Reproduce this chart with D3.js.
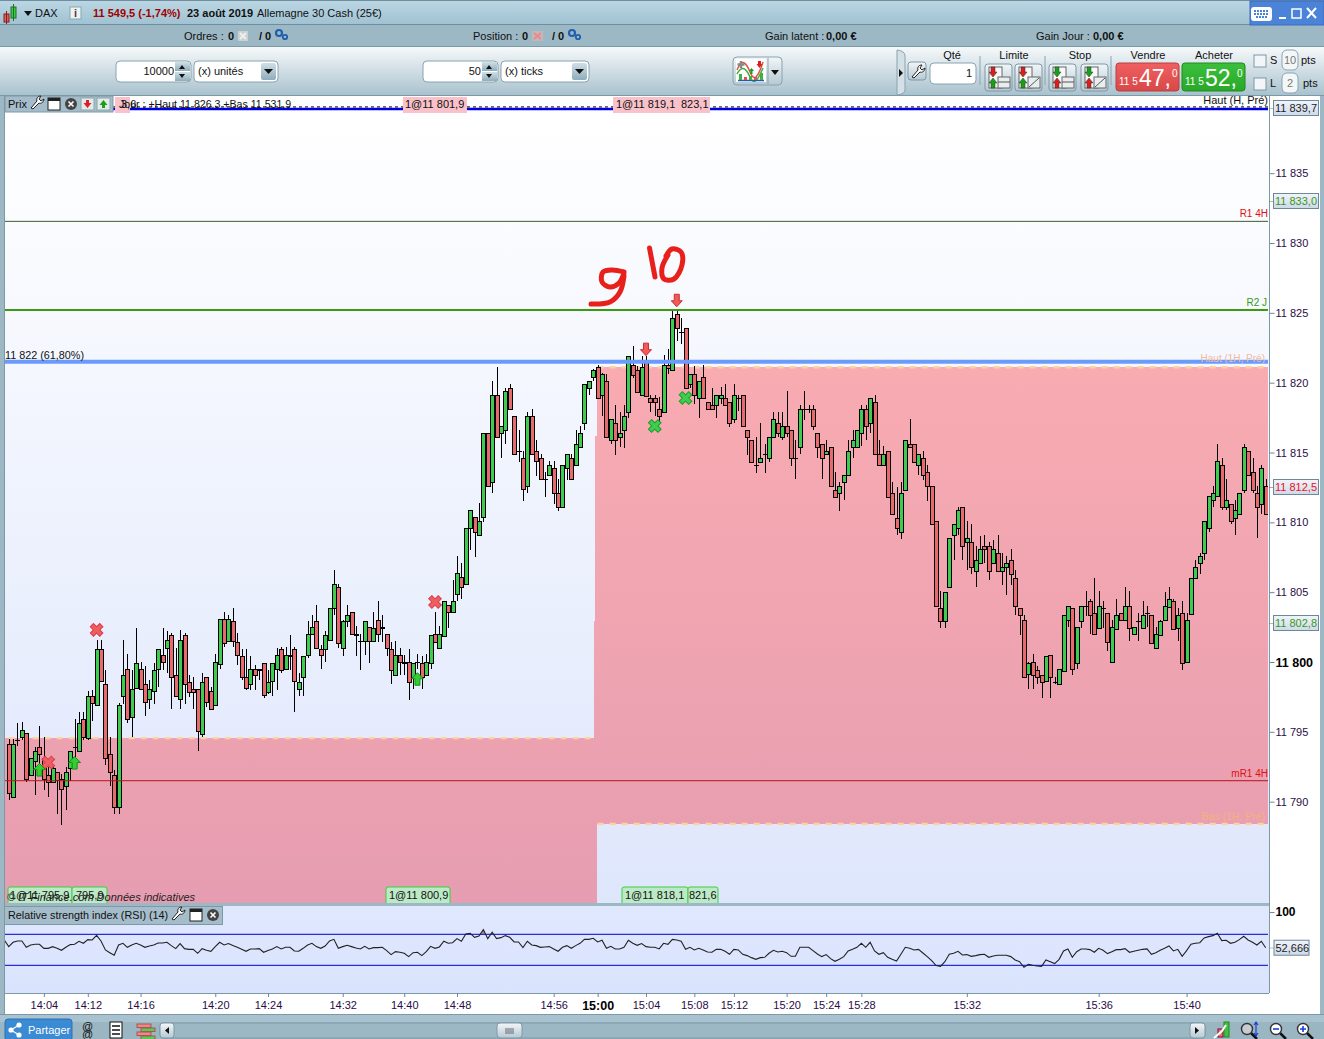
<!DOCTYPE html>
<html>
<head>
<meta charset="utf-8">
<title>DAX</title>
<script src="https://d3js.org/d3.v7.min.js"></script>
<style>
  body { margin: 0; background: #fff; }
  svg { display: block; }
  text { font-family: "Liberation Sans", Arial, sans-serif; font-size: 11px; fill: #111; }
</style>
</head>
<body>
<div id="chart"></div>
<script>
// prices are points above 11 800
var base = 11800;

var opens = [
-5.9,-9.7,-5.6,-5.4,-5.1,-8.1,-7.1,-6.1,-6.9,-8.1,
-8.6,-7.9,-8.4,-8.9,-7.6,-6.1,-6.4,-4.1,-5.4,-2.4,
-3.1,0.9,-1.6,-6.6,-8.1,-10.4,-2.4,-0.5,-3.9,-1.9,
-0.5,-1.6,-2.6,-2.1,-0.5,0.5,1.0,1.9,-0.9,-2.6,
1.9,-1.4,-1.9,-1.9,-5.1,-1.1,-2.1,-3.1,-0.1,3.1,
1.5,2.9,1.4,0.4,-1.1,-1.6,-0.5,-0.6,-0.1,-2.1,
-1.4,-0.5,0.9,-0.5,0.4,0.9,-1.9,-1.1,0.5,2.0,
2.9,0.9,0.9,1.6,3.9,5.4,1.0,3.0,3.6,2.0,
1.5,1.5,2.5,1.5,3.0,2.5,2.0,0.9,-0.9,0.5,
0,0,-1.1,0,-0.1,-0.9,-0.1,2.0,1.0,1.9,
4.1,3.6,4.9,6.1,5.6,9.6,10.4,9.1,10.4,16.4,
12.9,19.1,16.4,16.6,19.6,17.6,15.1,14.6,12.6,17.6,
15.1,14.6,13.1,13.4,13.9,12.1,11.1,13.9,14.6,14.1,
15.4,17.1,19.6,20.4,21.1,19.1,20.1,15.9,17.1,16.1,
16.6,17.9,21.3,20.9,19.1,21.5,18.9,18.9,18.1,17.9,
21.3,20.9,24.9,23.6,23.9,19.9,20.6,18.9,20.4,18.6,
18.4,18.4,18.9,18.9,18.6,17.4,18.9,19.1,16.6,15.9,
14.1,14.3,14.9,14.6,16.1,17.1,16.1,16.9,16.6,14.6,
15.4,18.1,18.1,18.1,16.4,15.6,14.9,15.4,12.3,12.1,
12.9,13.4,15.4,15.4,16.4,18.1,17.1,18.6,14.9,14.1,
15.1,12.1,10.3,9.3,12.3,15.6,15.6,14.1,14.6,13.6,
12.6,10.1,3.9,2.9,5.4,9.1,9.6,11.1,8.6,8.6,
6.5,7.1,8.3,8.3,7.1,7.8,6.5,6.8,7.3,6.0,
3.9,3.0,-0.9,0,-0.6,-0.9,-1.4,0.5,-1.4,-1.6,
-0.6,3.0,3.9,-0.1,2.9,4.0,4.4,3.5,2.4,3.9,
3.5,0,2.4,3.5,3.0,4.0,2.0,2.9,2.5,3.5,
3.4,1.0,1.9,3.0,3.9,4.4,2.5,3.5,0,3.4,
6.0,7.1,7.8,9.6,11.6,11.9,14.1,11.1,11.3,10.3,
10.6,12.3,15.1,13.6,12.1,11.3,12.6];

var highs = [
-5.5,-5.5,-4.4,-4.3,-5.1,-6.9,-6.1,-4.6,-5.4,-7.5,
-7.5,-7.9,-8.0,-7.5,-6.4,-4.1,-3.6,-3.6,-2.1,-2.0,
1.6,1.6,-0.6,-5.4,-7.7,-2.9,1.6,0.6,-0.6,2.4,
0,-0.3,-1.3,-0.1,0.9,2.4,2.2,2.1,1.0,2.3,
2.1,-0.9,-1.1,-1.9,-0.8,-1.1,-1.8,0.6,3.1,3.6,
3.4,3.9,2.1,0.9,0.9,0.4,-0.2,-0.5,-0.1,-0.6,
-0.1,1.0,1.1,1.1,1.9,1.1,-0.8,0.4,2.9,3.4,
4.1,1.2,2.2,3.9,6.6,5.6,3.0,4.1,3.6,2.6,
2.0,2.9,2.5,3.6,4.4,3.4,2.0,1.4,1.5,1.0,
0.5,0.9,-0.1,0.6,0.4,0.6,1.9,3.6,2.6,4.4,
4.1,5.9,7.6,7.1,9.6,10.9,10.4,11.4,16.4,16.4,
20.1,21.1,16.9,19.6,19.9,17.6,16.6,15.1,17.9,18.1,
15.9,14.9,13.6,14.4,14.4,13.1,14.1,14.9,14.9,16.6,
16.9,19.9,20.1,21.0,21.3,20.7,20.6,17.4,18.4,17.9,
18.4,21.9,22.6,21.2,21.9,21.9,19.1,19.1,19.0,22.0,
22.4,25.1,25.1,24.6,23.9,20.6,21.2,20.1,21.3,18.6,
19.6,19.1,19.7,19.9,18.6,19.9,19.1,19.1,16.6,15.9,
16.1,17.1,15.6,16.1,17.9,17.9,17.9,19.4,16.6,15.9,
18.4,19.4,18.4,18.4,16.4,15.6,15.9,15.4,13.6,12.9,
13.4,15.9,16.6,16.6,18.4,18.4,18.9,19.1,15.9,15.5,
15.1,12.9,12.5,12.9,15.9,17.4,15.6,14.9,15.1,14.1,
12.6,10.1,5.1,5.0,8.9,9.9,11.1,11.1,10.1,9.9,
8.3,9.0,9.1,8.6,8.7,9.1,7.8,7.6,8.1,6.6,
3.9,3.4,0,0.6,-0.3,-0.9,0.4,0.5,-1.1,-0.5,
3.4,4.0,3.9,2.5,4.0,5.1,4.5,6.0,5.1,4.4,
3.5,3.0,4.5,3.5,5.4,5.1,2.5,3.5,4.4,4.0,
3.4,2.5,3.0,5.0,5.4,4.5,3.9,4.4,3.5,6.0,
7.3,7.8,10.1,11.9,12.6,15.6,14.6,13.1,11.3,11.6,
12.1,15.6,15.1,14.6,12.6,14.1,13.1];

var lows = [
-9.9,-9.7,-6.0,-5.6,-8.6,-8.1,-9.5,-7.5,-9.2,-9.7,
-8.6,-10.9,-11.7,-10.6,-8.5,-6.8,-6.4,-5.6,-5.6,-4.2,
-3.1,-1.4,-7.4,-8.9,-10.9,-10.9,-3.0,-4.4,-5.4,-1.9,
-2.0,-3.9,-3.4,-3.0,-1.8,-0.6,-0.8,-3.4,-2.5,-3.4,
-3.0,-2.5,-3.4,-6.4,-5.4,-3.2,-3.4,-3.1,-0.5,1.1,
1.5,1.1,-0.2,-1.3,-2.0,-2.0,-2.0,-1.3,-2.6,-2.3,
-2.4,-2.0,-0.8,-0.6,-0.6,-3.6,-2.4,-2.4,0.3,2.0,
1.0,-0.5,0,1.6,3.4,1.0,0.4,2.5,2.0,0.4,
-0.6,0.5,-0.1,1.5,1.4,1.4,0.4,-1.6,-0.9,-0.9,
-0.9,-2.7,-1.9,-0.5,-1.9,-0.9,-0.5,1.4,1.0,1.9,
2.4,3.6,4.4,4.5,5.6,8.0,7.5,9.1,10.0,12.6,
12.1,16.1,14.6,15.6,18.1,14.9,14.3,11.5,12.1,14.9,
13.3,13.1,11.8,13.4,11.3,10.8,11.1,13.0,13.1,14.1,
15.4,16.6,19.1,20.1,18.9,17.6,16.1,15.6,14.8,15.4,
15.3,17.5,20.3,19.3,19.1,19.0,17.9,17.6,17.2,17.9,
20.6,20.9,23.0,22.8,19.6,19.6,18.5,17.5,18.9,18.1,
18.1,17.5,18.5,18.4,16.8,17.1,18.0,16.9,14.8,14.3,
13.5,14.3,13.5,14.3,16.1,16.1,15.9,16.1,14.0,13.1,
14.9,17.3,17.8,16.6,14.6,13.1,14.9,12.6,11.8,10.8,
11.6,13.4,14.6,15.4,15.5,15.9,16.4,14.9,14.1,14.1,
11.8,10.6,9.1,8.8,12.3,15.4,14.3,13.4,13.0,11.5,
9.9,4.0,2.4,2.4,5.4,7.3,9.1,7.3,6.6,6.3,
5.4,7.1,7.1,5.9,7.1,6.5,5.5,4.8,5.5,3.4,
1.9,-1.1,-1.9,-1.9,-1.6,-2.6,-1.4,-2.6,-1.6,-1.6,
-0.6,2.5,-0.9,-0.5,2.4,3.3,2.0,1.9,2.4,2.4,
0.8,-0.1,2.4,3.0,3.0,1.5,2.0,1.5,2.5,2.5,
1.4,0.9,1.9,3.0,3.9,2.4,1.5,-0.6,0,3.4,
6.0,6.3,7.3,9.3,11.1,11.9,10.9,10.9,9.9,9.1,
10.6,12.1,13.4,12.1,8.9,10.6,10.6];

var closes = [
-9.4,-5.9,-5.6,-4.9,-8.4,-6.9,-6.4,-6.6,-8.4,-8.6,
-7.6,-8.5,-9.1,-7.9,-6.4,-6.1,-4.4,-5.4,-2.4,-2.9,
0.9,-1.4,-6.9,-7.9,-10.4,-3.1,-0.9,-4.1,-1.9,-0.1,
-1.9,-2.9,-1.9,-0.6,0.9,0,1.6,-1.1,-2.4,1.6,
-1.6,-2.1,-2.1,-4.9,-1.4,-2.9,-3.4,0,3.1,1.4,
3.1,1.5,0.5,-1.1,-1.9,-0.5,-0.9,-0.5,-2.4,-1.4,
-0.1,0.5,-0.6,0.5,0.5,-1.4,-1.4,0.4,2.0,2.5,
1.0,0.5,1.9,3.9,5.6,1.4,2.9,3.4,2.0,1.9,
1.5,2.9,1.5,2.4,2.0,2.4,1.0,-0.6,0.5,0,
-0.1,-1.4,-0.1,0,-1.1,0,1.9,1.4,2.0,4.4,
3.6,4.4,6.4,5.4,9.6,10.9,9.3,10.1,16.4,12.6,
19.1,16.1,16.9,19.4,18.1,14.9,15.1,12.4,17.6,14.9,
14.4,13.1,13.1,14.1,12.1,11.1,14.1,14.9,13.1,15.6,
16.4,19.9,20.1,20.9,18.9,20.6,16.1,17.4,15.9,16.4,
17.6,21.9,20.6,19.3,21.1,19.1,18.6,18.6,17.6,21.3,
21.1,24.6,23.9,23.6,19.6,20.6,19.1,20.1,18.9,18.1,
18.1,19.1,19.1,18.4,17.1,19.1,18.9,16.9,16.1,14.3,
14.1,14.6,14.9,16.1,17.4,16.4,16.9,16.4,14.6,14.6,
18.1,18.1,18.1,16.9,15.4,14.6,15.1,12.6,11.8,12.6,
13.4,15.1,15.9,16.6,18.1,16.9,18.9,14.9,14.1,14.9,
11.8,10.6,9.6,12.1,15.9,15.4,14.3,14.9,13.4,12.6,
9.9,4.0,3.0,5.0,8.9,9.9,10.9,8.3,8.9,6.8,
7.3,8.1,8.1,6.5,8.1,6.5,6.8,7.1,6.3,4.0,
3.4,-1.1,-0.1,-0.9,-1.1,-1.4,0.4,-1.1,-1.4,-0.5,
3.4,4.0,-0.5,2.5,4.0,4.0,3.4,2.0,4.0,3.9,
1.4,2.5,3.4,3.0,4.0,2.4,2.5,2.9,3.4,3.5,
1.4,2.0,2.9,4.0,4.5,2.4,3.4,-0.1,3.0,6.0,
6.8,7.6,10.1,11.9,12.1,14.4,11.1,11.6,10.1,10.9,
12.1,15.4,13.4,12.3,11.1,13.9,10.6];

// starts one candle before the first one on screen
var rsi = [62.7,
54.1,59.7,61.4,61.4,53.2,56.2,57.1,57.1,51.9,51.9,
54.1,51.9,49.4,53.2,56.7,57.1,61,58.4,63.1,62.7,
68.7,61.4,49.8,46.3,42.9,56.2,58.4,53.2,56.2,58.4,
56.2,53.2,54.9,56.2,58.8,58.8,59.7,55.4,51.5,58,
51.5,50.6,50.6,45.5,51.5,49.4,48.1,54.1,59.7,56.2,
58,55.4,53.2,50.6,48.1,51.1,51.1,51.5,46.8,49,
51.1,54.1,51.1,53.2,53.2,48.5,48.1,51.9,56.2,58.4,
54.1,51.9,54.9,61.4,63.5,51.9,54.1,55.8,54.1,52.4,
51.1,54.5,51.1,52.8,52.8,53.2,48.9,43.8,47.6,46.8,
45.5,41.2,46.3,46.8,42.5,47.6,54.5,51.9,53.7,61,
58.4,59.2,64.4,61,70.4,71.3,66.1,67.8,76,64.4,
72.6,64.4,65.7,68.3,66.1,60.1,60.1,52.8,61,56.2,
55.4,53.2,53.7,54.1,51.1,48.1,53.2,55.4,51.9,55.4,
58.4,63.5,63.5,64.8,60.1,62.3,51.9,54.5,51.1,51.1,
53.2,62.3,58.4,55.8,58,54.1,53.2,53.2,51.1,58.4,
57.1,63.5,62.7,61,50.6,53.2,49.8,51.9,49.8,47.2,
46.8,50.6,50.6,48.1,44.2,50.6,49.8,44.2,42.5,39.9,
37.7,39.9,40.3,45.5,49.4,47.2,48.1,46.3,41.6,41.6,
53.2,53.2,53.2,48.9,44.6,41.2,43.8,38.6,35.2,37.7,
41.2,48.5,50.6,53.2,58.4,53.2,59.7,48.5,44.2,46.3,
40.3,37.7,35.6,44.2,53.2,51.9,49.8,50.6,45.9,41.2,
36,29.6,28.7,34.7,44.2,45.5,48.1,43.3,43.8,41.6,
42.5,43.8,44.2,40.3,42,42.9,42.9,42.9,41.2,36.9,
34.7,27.4,31.3,30,29.1,28.7,36.9,34.7,32.2,37.7,
48.5,51.1,40.3,47.6,51.1,51.1,50.2,46.8,51.9,49.4,
45.1,47.6,50.2,50.2,51.5,46.8,48.1,49.4,50.6,51.1,
44.2,46.3,49.4,51.9,54.9,48.5,50.6,41.6,48.9,57.1,
58.4,59.2,65.3,67,68.3,71.3,61.8,62.3,58.4,59.7,
63.1,67.4,62.7,59.7,56.2,61,52.7];

var priceTicks = [5,10,15,20,25,30,35,-5,-10,0];
var timeTickCandle = [9,19,31,48,60,77,91,103,125,135,146,157,166,178,187,195,219,249,269];
var timeTickLabel = ['14:04','14:12','14:16','14:20','14:24','14:32','14:40','14:48','14:56','15:00','15:04','15:08','15:12','15:20','15:24','15:28','15:32','15:36','15:40'];

// levels drawn across the price pane
var r1Level = 31.55, r2Level = 25.2, fibLevel = 21.5, mr1Level = -8.5, topLevel = 39.6;
var sellCrosses = [[21,2.3],[10,-7.2],[98,4.3]];
var buyCrosses = [[148,16.9],[155,18.9]];
var upArrows = [[8,-7.7],[16,-7.2],[94,-1.2]];
var downArrows = [[146,22.4],[153,25.9]];

// 1h high/low zones as [candle, price] outlines
var zoneLeft = [[0.2,-5.45],[134.1,-5.45],[134.1,-11.6],[134.8,-11.6],[134.8,-17.3],[0.2,-17.3]];
var zoneRight = [[134.8,21.1],[288,21.1],[288,-11.6],[134.1,-11.6],[134.1,2.9],[134.3,2.9],[134.3,9.5],[134.5,9.5],[134.5,16.2],[134.8,16.2]];

var width = 1324, height = 1039;
var frLocale = d3.formatLocale({decimal: ',', thousands: ' ', grouping: [3], currency: ['', ' €']});
var fmtInt = frLocale.format(',d'), fmtOne = frLocale.format(',.1f');

var svg = d3.select('#chart').append('svg').attr('width', width).attr('height', height);
var defs = svg.append('defs');

function gradient(id, stops, attrs) {
  var g = defs.append('linearGradient').attr('id', id).attr('x1', 0).attr('x2', 0).attr('y1', 0).attr('y2', 1);
  if (attrs) g.attr('gradientUnits', 'userSpaceOnUse').attr('y1', attrs[0]).attr('y2', attrs[1]);
  stops.forEach(function (s, i) {
    g.append('stop').attr('offset', i / (stops.length - 1)).attr('stop-color', s);
  });
}
gradient('titleBar', ['#bcd7e4', '#9fc1d1']);
gradient('toolBar', ['#f6f9fa', '#a9c2ce']);
gradient('paneBg', ['#ffffff', '#dee6fc'], [112, 903]);
gradient('zoneBg', ['#f8abb1', '#e79db1'], [367, 903]);
gradient('rsiBg', ['#e0e8fe', '#d9e3fd']);
gradient('lastBox', ['#f1f4fb', '#cdd9ec']);
gradient('sellBtn', ['#f06060', '#d84848']);
gradient('buyBtn', ['#3cc03c', '#28a828']);
gradient('btn', ['#f2f6f8', '#b5c9d3']);
gradient('arrowBtn', ['#d0dfe6', '#8fadbb']);

function rect(x, y, w, h, fill, stroke, rx) {
  return svg.append('rect').attr('x', x).attr('y', y).attr('width', w).attr('height', h)
    .attr('fill', fill).attr('stroke', stroke || 'none').attr('rx', rx || 0);
}
function label(x, y, str, color, opts) {
  opts = opts || {};
  return svg.append('text').attr('x', x).attr('y', y).text(str)
    .style('fill', color || '#111')
    .style('font-size', (opts.size || 11) + 'px')
    .style('font-weight', opts.bold ? 'bold' : 'normal')
    .style('font-style', opts.italic ? 'italic' : 'normal')
    .attr('text-anchor', opts.anchor || 'start');
}
function shape(d, fill, stroke, sw) {
  return svg.append('path').attr('d', d).attr('fill', fill || 'none')
    .attr('stroke', stroke || 'none').attr('stroke-width', sw || 1);
}

// window chrome
rect(0, 0, width, height, '#9db8c5');
rect(0, 0, width, 25, 'url(#titleBar)');
rect(0, 0, width, 1, '#6f8e9d');
rect(0, 24, width, 1, '#6f8e9d');
rect(0, 46, width, 1, '#7c99a7');
rect(0, 47, width, 48, 'url(#toolBar)');
rect(0, 95, width, 1, '#7c99a7');

// title bar
rect(4, 14, 5, 8, '#e85a5a', '#802020');
shape('M6.5 11V24', null, '#802020');
rect(11, 7, 5, 11, '#3ec94e', '#207020');
shape('M13.5 4V21', null, '#207020');
shape('M24 11h8l-4 5z', '#111');
label(35, 17, 'DAX');
rect(70, 7, 11, 12, '#eef2f4', '#8aa');
label(75.5, 17, 'i', '#444', {anchor: 'middle', bold: true});
label(93, 17, '11 549,5 (-1,74%)', '#a00000', {bold: true});
label(187, 17, '23 août 2019', '#111', {bold: true});
label(257, 17, 'Allemagne 30 Cash (25€)');
rect(1250, 1, 74, 24, '#4b83d8', '#3a6cc0');
rect(1251, 7, 21, 14, '#fff', null, 3);
shape('M1254 11h15M1254 14h15M1256 17h11', null, '#4b83d8', 2).attr('stroke-dasharray', '2,1');
shape('M1279 18h7', null, '#fff', 2);
rect(1292, 9, 9, 9, 'none', '#fff').attr('stroke-width', 1.5);
shape('M1307 8l9 10M1316 8l-9 10', null, '#fff', 2);

// second bar
function gears(x, y) {
  svg.append('circle').attr('cx', x).attr('cy', y).attr('r', 3).attr('fill', 'none').attr('stroke', '#1f5fb0').attr('stroke-width', 2.2);
  svg.append('circle').attr('cx', x + 6).attr('cy', y + 4).attr('r', 2.2).attr('fill', 'none').attr('stroke', '#1f5fb0').attr('stroke-width', 1.8);
}
label(184, 40, 'Ordres :');
label(228, 40, '0', '#111', {bold: true});
rect(238, 31, 10, 10, '#c8d0d0');
shape('M240 33l6 6M246 33l-6 6', null, '#eee', 2);
label(259, 40, '/ 0', '#111', {bold: true});
gears(279, 33);
label(473, 40, 'Position :');
label(522, 40, '0', '#111', {bold: true});
rect(532, 31, 11, 10, '#c2b8bc');
shape('M534 33l7 6M541 33l-7 6', null, '#e88', 2);
label(552, 40, '/ 0', '#111', {bold: true});
gears(572, 33);
label(765, 40, 'Gain latent :');
label(826, 40, '0,00 €', '#111', {bold: true});
label(1036, 40, 'Gain Jour :');
label(1093, 40, '0,00 €', '#111', {bold: true});

// order widgets
function spinner(x, val) {
  rect(x, 61, 75, 21, '#fff', '#8aa3b0', 4);
  label(x + 58, 75, val, '#111', {anchor: 'end'});
  rect(x + 59, 62, 15, 9, 'url(#arrowBtn)');
  rect(x + 59, 72, 15, 9, 'url(#arrowBtn)');
  shape('M' + (x + 63) + ' 69l3-4 3 4z', '#111');
  shape('M' + (x + 63) + ' 74l3 4 3-4z', '#111');
}
function dropdown(x, w, val) {
  rect(x, 61, w, 21, '#fff', '#8aa3b0', 4);
  label(x + 4, 75, val);
  rect(x + w - 17, 63, 15, 17, 'url(#arrowBtn)', null, 2);
  shape('M' + (x + w - 14) + ' 69h9l-4.500 5z', '#111');
}
spinner(116, '10000');
dropdown(194, 84, '(x) unités');
spinner(423, '50');
dropdown(501, 88, '(x) ticks');

rect(733, 57, 49, 28, 'url(#btn)', '#8aa3b0', 4);
shape('M768 58V84', null, '#8aa3b0');
rect(736, 59, 30, 23, '#fff');
shape('M737 70c5-12 9-8 13 2s8 6 13-10', null, '#e05050', 1.5);
shape('M737 74c5-9 9-6 13 3s8 3 13-9', null, '#40b040', 1.5);
shape('M738 80.500h26', null, '#1f5fb0', 1.5);
rect(739, 74, 3, 6, '#40b040');
rect(744, 77, 3, 3, '#e05050');
rect(749, 76, 3, 4, '#40b040');
rect(754, 77, 3, 3, '#e05050');
rect(760, 73, 3, 7, '#40b040');
shape('M741 61v7M737.500 64.500h7', null, '#888', 2.5);
shape('M749 71l2.500-3 2.500 3h-1.500v3h-2v-3z', '#18a018');
shape('M758 61h3v3h1.500l-3 4-3-4h1.500z', '#d82020');
shape('M771 70h8l-4 5z', '#111');

// trade panel
shape('M897 50q8 1 8 6V90q0 4-8 5z', '#d4e0e6', '#8aa3b0');
shape('M899 69l4 4-4 4z', '#111');
rect(908, 62, 18, 18, 'url(#btn)', '#7f98a5', 3);
shape('M912 77l6-7c-1-3 1-5 4-5l-2 3 2 2 3-2c0 3-3 5-5 4l-6 6z', '#fff', '#222');
label(952, 59, 'Qté', '#111', {anchor: 'middle'});
rect(930, 63, 46, 21, '#fff', '#8aa3b0', 4);
label(972, 77, '1', '#111', {anchor: 'end'});
[980, 1045, 1111].forEach(function (x) { shape('M' + x + ' 56V85', null, '#8aa3b0'); });
label(1014, 59, 'Limite', '#111', {anchor: 'middle'});
label(1080, 59, 'Stop', '#111', {anchor: 'middle'});
function orderBtn(x, firstRed, diag) {
  rect(x, 64, 27, 27, 'url(#btn)', '#7f98a5', 3);
  rect(x + 4, 67, 13, 21, '#f6f8f8', '#666');
  var a = firstRed ? '#d82020' : '#18a018', b = firstRed ? '#18a018' : '#d82020';
  shape('M' + (x + 6) + ' 67h4v5h2l-4 5-4-5h2z', a, '#333', 0.5);
  shape('M' + (x + 8) + ' 78l4 5h-2v5h-4v-5h-2z', b, '#333', 0.5);
  rect(x + 13, 77, 12, 11, '#e8eef0', '#666');
  shape(diag ? 'M' + (x + 14) + ' 87l10-9' : 'M' + (x + 13) + ' 82h12', null, '#555');
}
orderBtn(985, true, false);
orderBtn(1015, true, true);
orderBtn(1049, false, false);
orderBtn(1081, false, true);
label(1148, 59, 'Vendre', '#111', {anchor: 'middle'});
label(1214, 59, 'Acheter', '#111', {anchor: 'middle'});
rect(1116, 63, 63, 28, 'url(#sellBtn)', '#b84040', 3);
rect(1182, 63, 63, 28, 'url(#buyBtn)', '#208820', 3);
label(1119, 85, '11 5', '#fff', {size: 10});
label(1139, 86, '47,', '#fff', {size: 23});
label(1172, 77, '0', '#fff', {size: 10});
label(1185, 85, '11 5', '#fff', {size: 10});
label(1205, 86, '52,', '#fff', {size: 23});
label(1237, 77, '0', '#fff', {size: 10});
rect(1254, 55, 12, 12, '#f2f6f8', '#7f98a5');
label(1270, 64, 'S');
rect(1282, 50, 16, 20, '#f4f7f8', '#8aa3b0', 5);
label(1290, 64, '10', '#777', {anchor: 'middle'});
label(1301, 64, 'pts');
rect(1254, 78, 12, 12, '#f2f6f8', '#7f98a5');
label(1270, 87, 'L');
rect(1282, 73, 16, 20, '#f4f7f8', '#8aa3b0', 5);
label(1290, 87, '2', '#777', {anchor: 'middle'});
label(1303, 87, 'pts');

// scales
var x = d3.scaleLinear().domain([1, 287]).range([8.7, 1265.7]);
var y = d3.scaleLinear().domain([base, base + 15]).range([662, 452.5]);
var yRsi = d3.scaleLinear().domain([30, 70]).range([965.3, 934.3]);
var yp = function (v) { return y(base + v); };

// price pane
rect(5, 96, 1264, 807, 'url(#paneBg)');
rect(1269, 96, 51, 918, '#fff');
rect(1320, 96, 4, 918, '#9db8c5');
rect(0, 96, 4, 918, '#9db8c5');
rect(4, 96, 1, 918, '#7f98a5');
rect(5, 903, 1264, 3, '#9db8c5');
rect(1269, 96, 1, 897, '#7f98a5');

svg.append('clipPath').attr('id', 'pane').append('rect').attr('x', 5).attr('y', 96).attr('width', 1263).attr('height', 807);
var pane = svg.append('g').attr('clip-path', 'url(#pane)');

var outline = d3.line().x(function (d) { return x(d[0]); }).y(function (d) { return yp(d[1]); }).curve(d3.curveLinearClosed);
pane.selectAll('path.zone').data([zoneLeft, zoneRight]).enter().append('path')
  .attr('class', 'zone').attr('d', outline).attr('fill', 'url(#zoneBg)').attr('shape-rendering', 'crispEdges');

// 1h high/low dashes
var dashes = [[1, 134, -5.45], [135, 288, 21.1], [135, 288, -11.6]];
pane.selectAll('line.dash').data(dashes).enter().append('line')
  .attr('class', 'dash')
  .attr('x1', function (d) { return x(d[0]); })
  .attr('x2', function (d) { return x(d[1]); })
  .attr('y1', function (d) { return yp(d[2]); })
  .attr('y2', function (d) { return yp(d[2]); })
  .attr('stroke', '#fdd2a0').attr('stroke-width', 2.4).attr('stroke-dasharray', '6,6');
label(1265, 362, 'Haut (1H, Pré)', '#f5b8a0', {anchor: 'end', size: 10});
label(1265, 820, 'Bas (1H, Pré)', '#f5b27e', {anchor: 'end', size: 10.5});

// top strip tags
[[115, 15], [403, 64], [613, 97]].forEach(function (d) {
  rect(d[0], 97, d[1], 16, '#f9c2ca');
});
label(121, 108, '3,6', '#111');
label(119, 108, 'Jour : +Haut 11 826,3 +Bas 11 531,9', '#111', {size: 10.6});
label(405, 108, '1@11 801,9');
label(616, 108, '1@11 819,1');
label(681, 108, '823,1');
label(1268, 104, 'Haut (H, Pré)', '#111', {anchor: 'end'});

// candles
var candles = d3.range(opens.length).map(function (i) {
  return {n: i + 1, o: opens[i], h: highs[i], l: lows[i], c: closes[i]};
});
var candleG = pane.append('g').attr('shape-rendering', 'crispEdges');
candleG.selectAll('line.wick').data(candles).enter().append('line')
  .attr('class', 'wick')
  .attr('x1', function (d) { return Math.round(x(d.n)) + 0.5; })
  .attr('x2', function (d) { return Math.round(x(d.n)) + 0.5; })
  .attr('y1', function (d) { return yp(d.h); })
  .attr('y2', function (d) { return yp(d.l); })
  .attr('stroke', '#000');
candleG.selectAll('rect.body').data(candles).enter().append('rect')
  .attr('class', 'body')
  .attr('x', function (d) { return Math.round(x(d.n)) - 1.5; })
  .attr('width', 4)
  .attr('y', function (d) { return Math.round(yp(Math.max(d.o, d.c))) + 0.5; })
  .attr('height', function (d) { return Math.max(Math.round(Math.abs(yp(d.o) - yp(d.c))), 0.01); })
  .attr('fill', function (d) { return d.c > d.o ? '#3fcb50' : '#e86a6c'; })
  .attr('stroke', '#000');

// horizontal levels
function level(v, color, sw) {
  pane.append('line').attr('x1', 5).attr('x2', 1268).attr('y1', yp(v)).attr('y2', yp(v))
    .attr('stroke', color).attr('stroke-width', sw);
}
level(r1Level, '#3c5a2c', 1);
level(r2Level, '#3a9a10', 2);
level(fibLevel, '#6a9bfc', 4);
level(mr1Level, '#b01818', 1);
level(topLevel, '#0000e0', 2.5);
pane.append('line').attr('x1', 5).attr('x2', 1268).attr('y1', yp(topLevel) - 2).attr('y2', yp(topLevel) - 2)
  .attr('stroke', '#000').attr('stroke-dasharray', '3,3');
label(5, 359, '11 822 (61,80%)', '#111', {size: 10.8});
label(1268, 217, 'R1 4H', '#e01010', {anchor: 'end', size: 10});
label(1267, 306, 'R2 J', '#3a9a10', {anchor: 'end', size: 10});
label(1268, 777, 'mR1 4H', '#e01010', {anchor: 'end', size: 10});

// trade markers
var cross = d3.symbol().type(d3.symbolCross).size(100);
function crosses(data, fill, stroke) {
  svg.append('g').selectAll('path').data(data).enter().append('path')
    .attr('d', cross)
    .attr('transform', function (d) { return 'translate(' + x(d[0]) + ',' + yp(d[1]) + ') rotate(45)'; })
    .attr('fill', fill).attr('stroke', stroke);
}
crosses(sellCrosses, '#ef5c62', '#d84048');
crosses(buyCrosses, '#3fcc50', '#18a028');
svg.append('g').selectAll('path').data(upArrows).enter().append('path')
  .attr('d', 'M0 -6L6 0H2.500V6.500H-2.500V0H-6Z')
  .attr('transform', function (d) { return 'translate(' + x(d[0]) + ',' + yp(d[1]) + ')'; })
  .attr('fill', '#36cc36').attr('stroke', '#0a9a0a');
svg.append('g').selectAll('path').data(downArrows).enter().append('path')
  .attr('d', 'M0 6.500L5.500 0.500H2.500V-6H-2.500V0.500H-5.500Z')
  .attr('transform', function (d) { return 'translate(' + x(d[0]) + ',' + yp(d[1]) + ')'; })
  .attr('fill', '#f05a5a').attr('stroke', '#c83030');

// bottom tags
[[8, 64], [72, 35], [386, 64], [622, 66], [688, 30]].forEach(function (d) {
  svg.append('path').attr('d', 'M' + d[0] + ' 903V889q0-2 2-2H' + (d[0] + d[1] - 2) + 'q2 0 2 2V903')
    .attr('fill', '#bdeac6').attr('stroke', '#40cc40');
});
label(10, 899, '1@11 795,9');
label(76, 899, '795,9');
label(389, 899, '1@11 800,9');
label(625, 899, '1@11 818,1');
label(689, 899, '821,6');
label(7, 901, '© IT-Finance.com Données indicatives', '#222', {italic: true});

// pane title bars
rect(5, 96, 108, 16, '#a5bdca', '#7f98a5');
label(8, 108, 'Prix');
function wrench(px, py) {
  shape('M' + px + ' ' + (py + 11) + 'l6-7c-1-3 1-5 4-5l-2 3 2 2 3-2c0 3-3 5-5 4l-6 6z', '#fff', '#222');
}
function closeBtn(px, py) {
  svg.append('circle').attr('cx', px).attr('cy', py).attr('r', 6).attr('fill', '#444');
  shape('M' + (px - 2.5) + ' ' + (py - 2.5) + 'l5 5m0-5l-5 5', null, '#fff', 1.6);
}
wrench(31, 97);
rect(48, 98, 12, 12, '#fff', '#222');
rect(48, 98, 12, 3, '#222');
closeBtn(71, 104);
rect(81, 98, 13, 12, '#e6e9ec', '#8aa');
shape('M87.5 108l-4-5h2.500v-3h3v3h2.500z', '#e02020');
rect(97, 98, 13, 12, '#e6e9ec', '#8aa');
shape('M103.500 100l-4 5h2.500v3h3v-3h2.500z', '#18a018');

// price axis
var yAxis = d3.axisRight(y)
  .tickValues(priceTicks.map(function (v) { return base + v; }))
  .tickSize(5).tickPadding(1)
  .tickFormat(fmtInt);
var yG = svg.append('g').attr('transform', 'translate(1269.5,0)').call(yAxis);
yG.select('.domain').remove();
yG.selectAll('line').attr('stroke', '#6f8896');
yG.selectAll('text').style('fill', '#2a0c46').attr('x', 6).style('font-size', '11px');
yG.selectAll('.tick').filter(function (d) { return d === base; }).select('text')
  .style('font-weight', 'bold').style('font-size', '12.5px').style('fill', '#000');

// boxed price tags
var priceTags = [39.7, 33.0, 12.5, 2.8];
var tagColors = ['#222', '#3a9a10', '#ee1010', '#3a9a10'];
priceTags.forEach(function (v, i) {
  var py = Math.round(yp(v));
  rect(1269, py, 5, 0.5, tagColors[i] === '#222' ? '#6f8896' : tagColors[i]);
  rect(1273.5, py - 7.5, 45, 15, 'url(#lastBox)', '#6f8896');
  label(1275, py + 4, fmtOne(base + v), tagColors[i]);
});

// handwritten counts
var hand = d3.line().curve(d3.curveCatmullRom);
[
  [[624,272],[612,270],[603,272],[602,282],[610,287],[619,283],[624,273]],
  [[624,276],[620,292],[610,302],[591,304]],
  [[649.5,248],[655,277]],
  [[668,255],[662,268],[664,279],[674,279],[682,265],[681,252],[672,249],[666,256]]
].forEach(function (pts) {
  svg.append('path').attr('d', hand(pts)).attr('fill', 'none').attr('stroke', '#e8201c')
    .attr('stroke-width', 5).attr('stroke-linecap', 'round').attr('stroke-linejoin', 'round');
});

// RSI pane
rect(5, 906, 1264, 87, 'url(#rsiBg)');
svg.append('clipPath').attr('id', 'overbought').append('rect').attr('x', 5).attr('y', 906).attr('width', 1263).attr('height', yRsi(70) - 906);
svg.append('path').datum(rsi)
  .attr('clip-path', 'url(#overbought)')
  .attr('d', d3.area().x(function (d, i) { return x(i); }).y0(yRsi(70)).y1(function (d) { return yRsi(d); }))
  .attr('fill', '#a8929f');
[70, 30].forEach(function (v) {
  svg.append('line').attr('x1', 5).attr('x2', 1268).attr('y1', yRsi(v)).attr('y2', yRsi(v))
    .attr('stroke', '#2a2ed8').attr('stroke-width', 1.2);
});
svg.append('path').datum(rsi)
  .attr('d', d3.line().x(function (d, i) { return x(i); }).y(function (d) { return yRsi(d); }))
  .attr('fill', 'none').attr('stroke', '#222').attr('stroke-width', 1.1);
rect(4, 906, 1, 87, '#7f98a5');

rect(4.5, 906.5, 218, 18, '#a5bdca', '#7f98a5');
label(8, 919, 'Relative strength index (RSI) (14)', '#111', {size: 10.8});
wrench(172, 908);
rect(190, 909, 12, 12, '#fff', '#222');
rect(190, 909, 12, 3, '#222');
closeBtn(213, 915);
rect(1269, 906, 1, 87, '#7f98a5');

var rsiAxis = d3.axisRight(yRsi).tickValues([100]).tickSize(5).tickFormat(d3.format('d'));
var rG = svg.append('g').attr('transform', 'translate(1269.5,1)').call(rsiAxis);
rG.select('.domain').remove();
rG.selectAll('line').attr('stroke', '#6f8896');
rG.selectAll('text').attr('x', 6).style('font-size', '12px').style('font-weight', 'bold').style('fill', '#000');
rect(1269, yRsi(52.666), 5, 0.5, '#6f8896');
rect(1274, yRsi(52.666) - 7.5, 35, 15, 'url(#lastBox)', '#6f8896');
label(1275.5, yRsi(52.666) + 4, frLocale.format(',.3f')(52.666), '#222');

// time axis
rect(5, 993, 1264, 21, '#fff');
rect(5, 993, 1264, 1, '#7f98a5');
var xAxis = d3.axisBottom(x).tickValues(timeTickCandle).tickSize(4).tickPadding(4)
  .tickFormat(function (d) { return timeTickLabel[timeTickCandle.indexOf(d)]; });
var xG = svg.append('g').attr('transform', 'translate(0,993)').call(xAxis);
xG.select('.domain').remove();
xG.selectAll('line').attr('stroke', '#6f8896');
xG.selectAll('text').style('fill', '#2a0c46').style('font-size', '11px');
xG.selectAll('.tick').filter(function (d) { return d === 135; }).select('text')
  .style('font-weight', 'bold').style('font-size', '12.5px').style('fill', '#000');

// bottom toolbar
rect(0, 1014, width, 1, '#7f98a5');
rect(0, 1015, width, 24, '#a8c3cf');
rect(0, 1022, width, 17, '#9bb6c3');
rect(5, 1019, 67, 22, '#3a8ad4', '#2a70b8', 3);
[[11, 1030], [19, 1025], [19, 1035]].forEach(function (d) {
  svg.append('circle').attr('cx', d[0]).attr('cy', d[1]).attr('r', 2.6).attr('fill', '#fff');
});
shape('M11 1030L19 1025M11 1030L19 1035', null, '#fff', 1.2);
label(28, 1034, 'Partager', '#fff');
label(82, 1030, '@', '#111');
label(82, 1038, '@', '#111');
rect(110, 1022, 12, 16, '#fff', '#111');
shape('M112 1026h8M112 1030h8M112 1034h8', null, '#111', 1.5);
[[137, 1024, '#e88'], [141, 1028, '#5c5'], [137, 1032, '#e88'], [141, 1036, '#5c5']].forEach(function (d) {
  rect(d[0], d[1], 14, 3.500, d[2], '#a55');
});
rect(160, 1023, 1045, 15, '#9db8c5', '#7f98a5', 3);
rect(160, 1023, 14, 15, 'url(#btn)', '#7f98a5', 3);
shape('M169 1027v7l-4-3.500z', '#111');
rect(497, 1023, 25, 15, 'url(#btn)', '#7f98a5', 3);
shape('M505 1029h9M505 1031h9M505 1033h9', null, '#667');
rect(1190, 1023, 15, 15, 'url(#btn)', '#7f98a5', 3);
shape('M1195 1027v7l4-3.500z', '#111');
rect(1218, 1029, 5, 8, '#e87070', '#803');
rect(1224, 1022, 5, 15, '#40c040', '#282');
shape('M1214 1038l8-7 4-6', null, '#fff', 2);
function lens(cx, cy, inner) {
  shape('M' + (cx + 4) + ' ' + (cy + 4) + 'l6 6', null, '#111', 2.5);
  svg.append('circle').attr('cx', cx).attr('cy', cy).attr('r', 5.5).attr('fill', inner ? '#fff' : '#c8ccd0').attr('stroke', '#333').attr('stroke-width', 1.4);
  if (inner) shape('M' + (cx - 3) + ' ' + cy + 'h6' + (inner === 2 ? 'M' + cx + ' ' + (cy - 3) + 'v6' : ''), null, '#1a3ed8', 1.6);
}
lens(1247, 1029, 0);
shape('M1256 1023v12M1254 1025l2-3 2 3M1254 1033l2 3 2-3', null, '#1a3ed8', 1.2);
lens(1276, 1029, 1);
lens(1303, 1029, 2);
</script>
</body>
</html>
